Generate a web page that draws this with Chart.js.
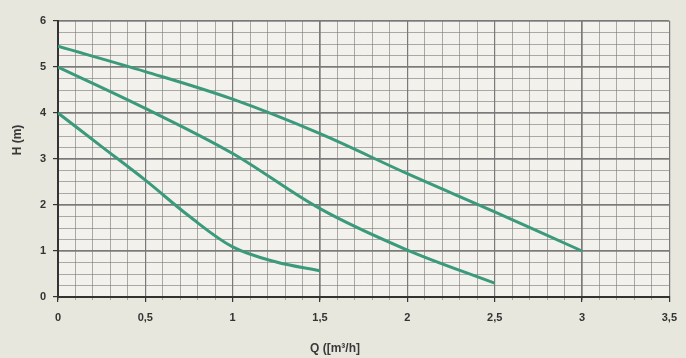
<!DOCTYPE html>
<html>
<head>
<meta charset="utf-8">
<script src="https://cdn.jsdelivr.net/npm/chart.js@4/dist/chart.umd.min.js"></script>
<style>
html,body{margin:0;padding:0;background:#e8e7dd;}
#wrap{width:686px;height:358px;position:relative;}
</style>
</head>
<body>
<div id="wrap"><canvas id="c" width="686" height="358"></canvas></div>
<script>
// Data
const q1 = [0, 0.5, 1, 1.5, 2, 2.5, 3];
const h1 = [5.45, 4.9, 4.3, 3.55, 2.68, 1.85, 1.0];
const q2 = [0, 0.5, 1, 1.5, 2, 2.5];
const h2 = [5.0, 4.1, 3.12, 1.92, 1.02, 0.3];
const q3 = [0, 0.25, 0.5, 0.75, 1, 1.25, 1.5];
const h3 = [4.0, 3.27, 2.54, 1.76, 1.09, 0.76, 0.57];
const xTickLabels = ['0', '0,5', '1', '1,5', '2', '2,5', '3', '3,5'];
const yTickLabels = ['0', '1', '2', '3', '4', '5', '6'];
const xTitle = 'Q ([m³/h]';
const yTitle = 'H (m)';

const pts = (xs, ys) => xs.map((x, i) => ({x: x, y: ys[i]}));
const curveColor = '#3b9a7c';
const lineDs = (xs, ys) => ({
  data: pts(xs, ys), borderColor: curveColor, borderWidth: 3, pointRadius: 0,
  fill: false, tension: 0.35, xAxisID: 'x', yAxisID: 'y'
});

const bgPlugin = {
  id: 'bg',
  beforeDraw(chart) {
    const {ctx, chartArea: a} = chart;
    ctx.save();
    ctx.fillStyle = '#e8e7dd';
    ctx.fillRect(0, 0, chart.width, chart.height);
    ctx.fillStyle = '#f2f1ec';
    ctx.fillRect(a.left, a.top, a.right - a.left, a.bottom - a.top);
    ctx.restore();
  },
  afterDraw(chart) {
    const {ctx} = chart;
    ctx.save();
    ctx.fillStyle = '#3a3a3a';
    ctx.font = 'bold 12px "Liberation Sans", Arial, sans-serif';
    ctx.textAlign = 'center';
    ctx.textBaseline = 'middle';
    ctx.fillText(xTitle, 335, 349);
    ctx.translate(18, 140);
    ctx.rotate(-Math.PI / 2);
    ctx.fillText(yTitle, 0, 0);
    ctx.restore();
  }
};

const font = {family: '"Liberation Sans", Arial, sans-serif', size: 11, weight: 'bold'};

new Chart(document.getElementById('c'), {
  type: 'line',
  data: {datasets: [lineDs(q1, h1), lineDs(q2, h2), lineDs(q3, h3)]},
  options: {
    responsive: false,
    animation: false,
    layout: {padding: {top: 21, right: 13, left: 0, bottom: 0}},
    plugins: {legend: {display: false}, tooltip: {enabled: false}, title: {display: false}},
    scales: {
      xm: {
        type: 'linear', position: 'bottom', min: 0, max: 3.5,
        ticks: {display: false, stepSize: 0.1},
        grid: {color: 'rgba(120,120,120,0.6)', lineWidth: 1, tickLength: 3, drawTicks: true},
        border: {display: false},
        afterFit(s) { s.height = 0; }
      },
      ym: {
        type: 'linear', position: 'left', min: 0, max: 6,
        ticks: {display: false, stepSize: 0.25},
        grid: {color: 'rgba(120,120,120,0.6)', lineWidth: 1, drawTicks: false},
        border: {display: false},
        afterFit(s) { s.width = 0; }
      },
      x: {
        type: 'linear', position: 'bottom', min: 0, max: 3.5,
        ticks: {stepSize: 0.5, color: '#333', font: font, padding: 9, maxRotation: 0,
          callback: (v, i) => xTickLabels[i]},
        grid: {color: '#7a7a7a', lineWidth: 1.2, tickLength: 5, tickColor: '#333'},
        border: {display: true, color: '#333', width: 2},
        afterFit(s) { s.height = 61; }
      },
      y: {
        type: 'linear', position: 'left', min: 0, max: 6,
        ticks: {stepSize: 1, color: '#333', font: font, padding: 7,
          callback: (v, i) => yTickLabels[i]},
        grid: {color: '#7a7a7a', lineWidth: 1.2, tickLength: 5, tickColor: '#333'},
        border: {display: true, color: '#333', width: 2},
        afterFit(s) { s.width = 58; }
      }
    }
  },
  plugins: [bgPlugin]
});
</script>
</body>
</html>
